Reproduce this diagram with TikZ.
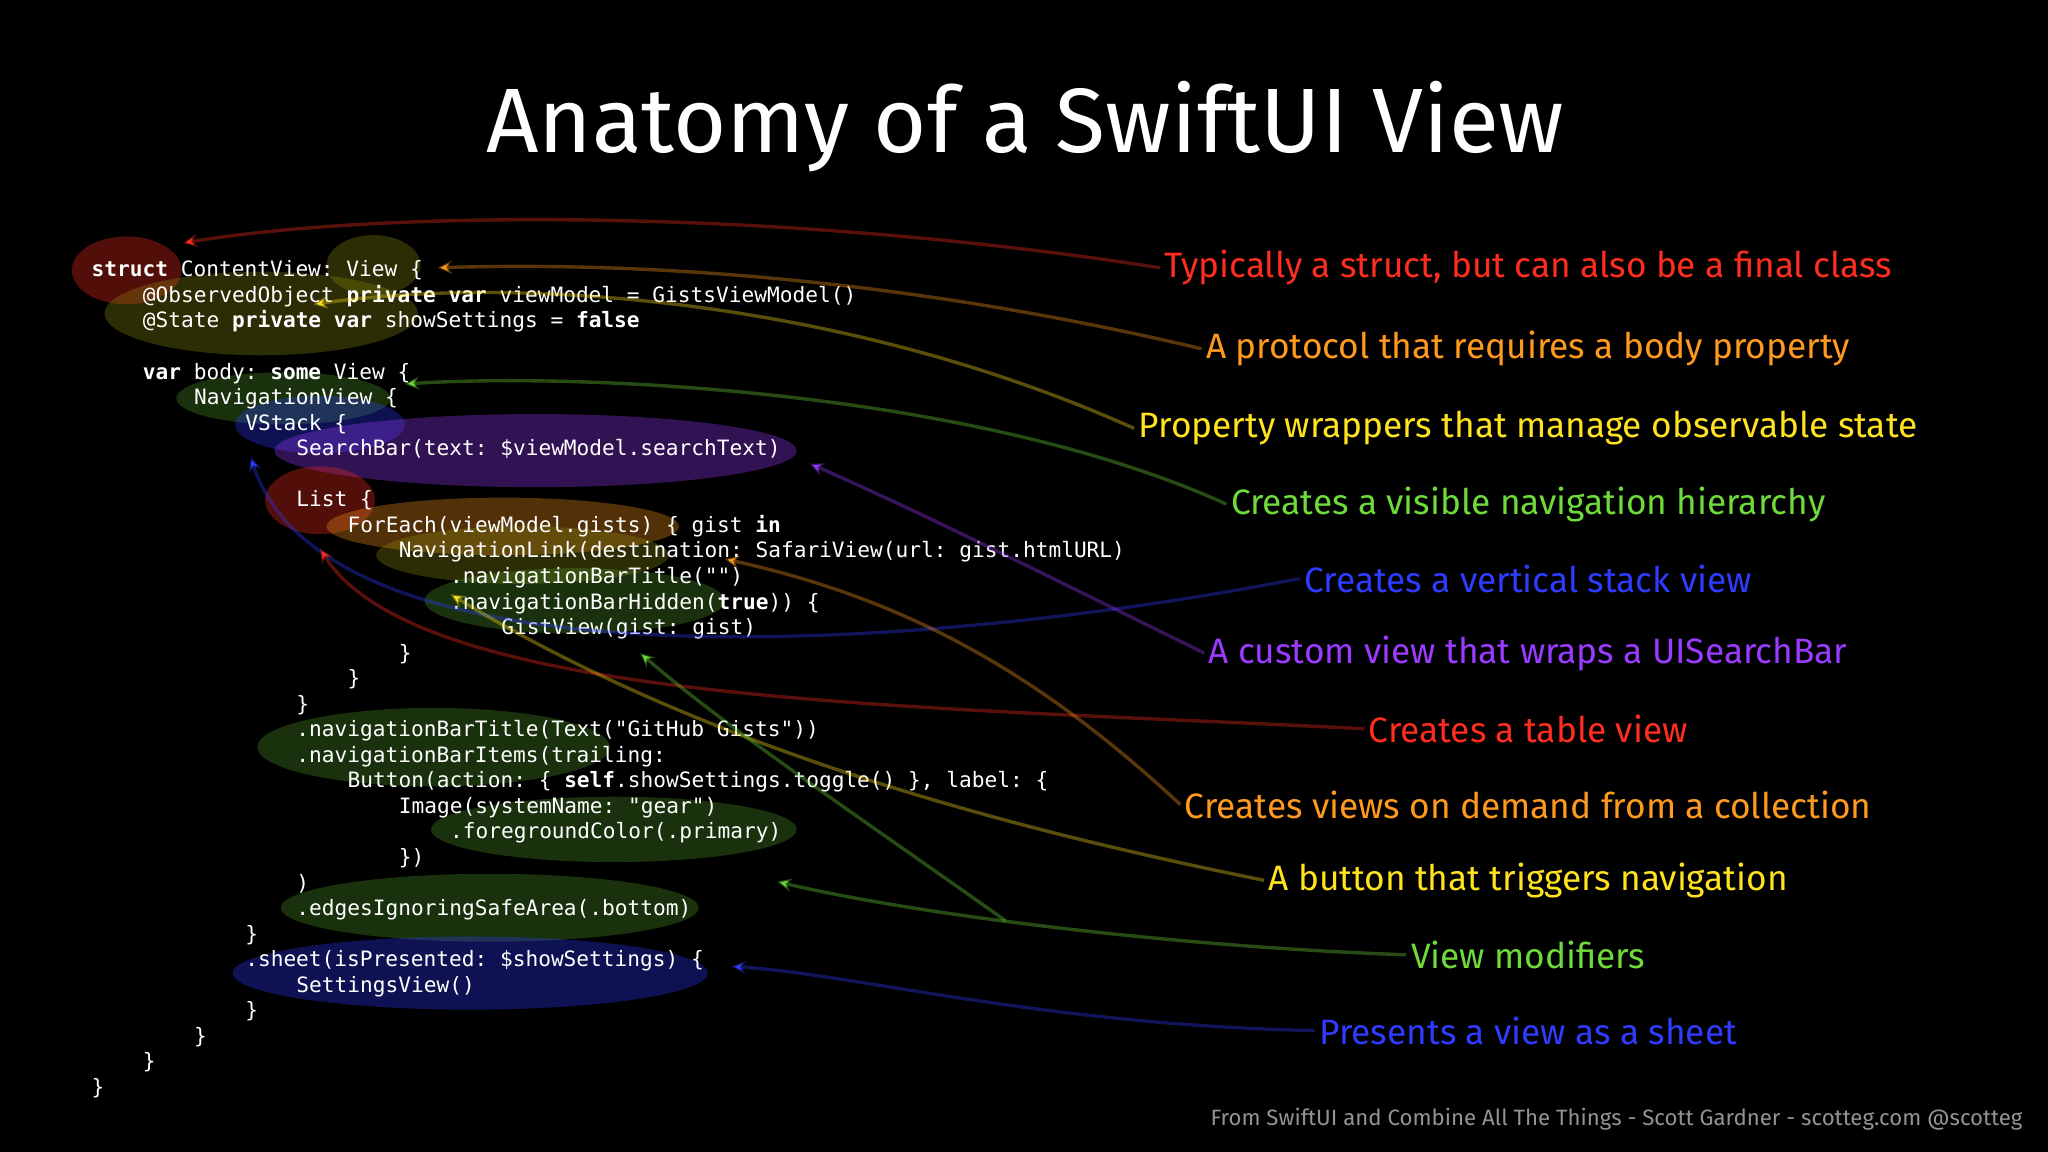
\documentclass[tikz,border=0pt]{standalone}
\usepackage{fontspec}
\setmainfont{Fira Sans}
\setmonofont{DejaVu Sans Mono}
\usetikzlibrary{arrows.meta}
\definecolor{cred}{HTML}{FF2D1F}
\definecolor{corange}{HTML}{FF9A1F}
\definecolor{cyellow}{HTML}{FFE31F}
\definecolor{cgreen}{HTML}{6FDB3A}
\definecolor{cblue}{HTML}{2F3BFF}
\definecolor{cpurple}{HTML}{9B3BFF}
\definecolor{colive}{HTML}{8A8A10}
\tikzset{
 hl/.style={fill=#1,fill opacity=0.32,draw=none},
 ptr/.style={draw=#1,draw opacity=0.35,line width=2.6pt,-{Stealth[length=11pt,width=10pt]}},
 lbl/.style={text=#1,font=\fontsize{27}{30}\selectfont\medseries,anchor=center},
 code/.style={text=white,font=\fontsize{16.2}{18}\ttfamily,anchor=base west,inner sep=0pt}
}
\providecommand{\medseries}{\fontseries{m}}
\newcommand{\kw}[1]{\textbf{#1}}
\begin{document}
\begin{tikzpicture}[x=1pt,y=-1pt]
\fill[black] (0,0) rectangle (1568,882);
\useasboundingbox (0,0) rectangle (1568,882);
% highlights
\fill[hl=cred] (97,207) ellipse[x radius=42,y radius=26];
\fill[hl=colive] (286,203) ellipse[x radius=36,y radius=23];
\fill[hl=colive] (200,240) ellipse[x radius=120,y radius=32];
\fill[hl=cgreen!70!black] (217,305) ellipse[x radius=82,y radius=20];
\fill[hl=cblue] (245,325) ellipse[x radius=65,y radius=22];
\fill[hl=cpurple] (410,345) ellipse[x radius=200,y radius=28];
\fill[hl=cred] (245,383) ellipse[x radius=42,y radius=26];
\fill[hl=corange] (385,403) ellipse[x radius=135,y radius=22];
\fill[hl=colive] (400,425) ellipse[x radius=112,y radius=22];
\fill[hl=cgreen!70!black] (440,460) ellipse[x radius=115,y radius=25];
\fill[hl=cgreen!70!black] (332,572) ellipse[x radius=135,y radius=30];
\fill[hl=cgreen!70!black] (470,635) ellipse[x radius=140,y radius=25];
\fill[hl=cgreen!70!black] (375,695) ellipse[x radius=160,y radius=26];
\fill[hl=cblue] (360,745) ellipse[x radius=182,y radius=28];
% title
\node[text=white,font=\fontsize{70}{80}\selectfont] (title) at (785,97) {Anatomy of a SwiftUI View};
% code
\foreach \i/\ind/\t in {
0/0/{\kw{struct} ContentView: View \{},
1/4/{@ObservedObject \kw{private} \kw{var} viewModel = GistsViewModel()},
2/4/{@State \kw{private} \kw{var} showSettings = \kw{false}},
4/4/{\kw{var} body: \kw{some} View \{},
5/8/{NavigationView \{},
6/12/{VStack \{},
7/16/{SearchBar(text: \$viewModel.searchText)},
9/16/{List \{},
10/20/{ForEach(viewModel.gists) \{ gist \kw{in}},
11/24/{NavigationLink(destination: SafariView(url: gist.htmlURL)},
12/28/{.navigationBarTitle("")},
13/28/{.navigationBarHidden(\kw{true})) \{},
14/32/{GistView(gist: gist)},
15/24/{\}},
16/20/{\}},
17/16/{\}},
18/16/{.navigationBarTitle(Text("GitHub Gists"))},
19/16/{.navigationBarItems(trailing:},
20/20/{Button(action: \{ \kw{self}.showSettings.toggle() \}, label: \{},
21/24/{Image(systemName: "gear")},
22/28/{.foregroundColor(.primary)},
23/24/{\})},
24/16/{)},
25/16/{.edgesIgnoringSafeArea(.bottom)},
26/12/{\}},
27/12/{.sheet(isPresented: \$showSettings) \{},
28/16/{SettingsView()},
29/12/{\}},
30/8/{\}},
31/4/{\}},
32/0/{\}}}
{\node[code] (c\i) at ({70+\ind*9.8},{212+\i*19.56}) {\t};}
% labels
\node[lbl=cred] (l1) at (1170,205) {Typically a struct, but can also be a final class};
\node[lbl=corange] (l2) at (1170,267) {A protocol that requires a body property};
\node[lbl=cyellow] (l3) at (1170,328) {Property wrappers that manage observable state};
\node[lbl=cgreen] (l4) at (1170,386) {Creates a visible navigation hierarchy};
\node[lbl=cblue] (l5) at (1170,443) {Creates a vertical stack view};
\node[lbl=cpurple] (l6) at (1170,500) {A custom view that wraps a UISearchBar};
\node[lbl=cred] (l7) at (1170,558) {Creates a table view};
\node[lbl=corange] (l8) at (1170,616) {Creates views on demand from a collection};
\node[lbl=cyellow] (l9) at (1170,674) {A button that triggers navigation};
\node[lbl=cgreen] (l10) at (1170,731) {View modifiers};
\node[lbl=cblue] (l11) at (1170,789) {Presents a view as a sheet};
\node[text=gray!85,font=\fontsize{17}{20}\selectfont,anchor=east] (foot) at (1552,857) {From SwiftUI and Combine All The Things - Scott Gardner - scotteg.com @scotteg};
% arrow endpoints
\coordinate (t1) at (140,186);
\coordinate (t2) at (335,205);
\coordinate (t3) at (240,233);
\coordinate (t4) at (310,294);
\coordinate (t5) at (192,350);
\coordinate (t6) at (620,355);
\coordinate (t7) at (245,420);
\coordinate (t8) at (555,428);
\coordinate (t9) at (490,500);
\coordinate (t9b) at (345,455);
\coordinate (t10) at (595,675);
\coordinate (t11) at (560,740);
\coordinate (m) at (770,705);
\draw[ptr=cred] (l1.west) .. controls (600,160) and (300,160) .. (t1);
\draw[ptr=corange] (l2.west) .. controls (700,215) and (500,200) .. (t2);
\draw[ptr=cyellow] (l3.west) .. controls (650,230) and (400,210) .. (t3);
\draw[ptr=cgreen] (l4.west) .. controls (750,300) and (450,285) .. (t4);
\draw[ptr=cblue] (l5.west) .. controls (700,500) and (250,530) .. (t5);
\draw[ptr=cpurple] (l6.west) .. controls (780,430) and (700,390) .. (t6);
\draw[ptr=cred] (l7.west) .. controls (700,540) and (320,540) .. (t7);
\draw[ptr=corange] (l8.west) .. controls (800,520) and (700,460) .. (t8);
\draw[ptr=cyellow] (l9.west) .. controls (800,640) and (550,580) .. (t9b);
\draw[ptr=cgreen] (l10.west) .. controls (900,725) and (700,700) .. (t10);
\draw[ptr=cgreen] (m) .. controls (650,620) and (560,560) .. (t9);
\draw[ptr=cblue] (l11.west) .. controls (800,785) and (650,745) .. (t11);
\end{tikzpicture}
\end{document}
